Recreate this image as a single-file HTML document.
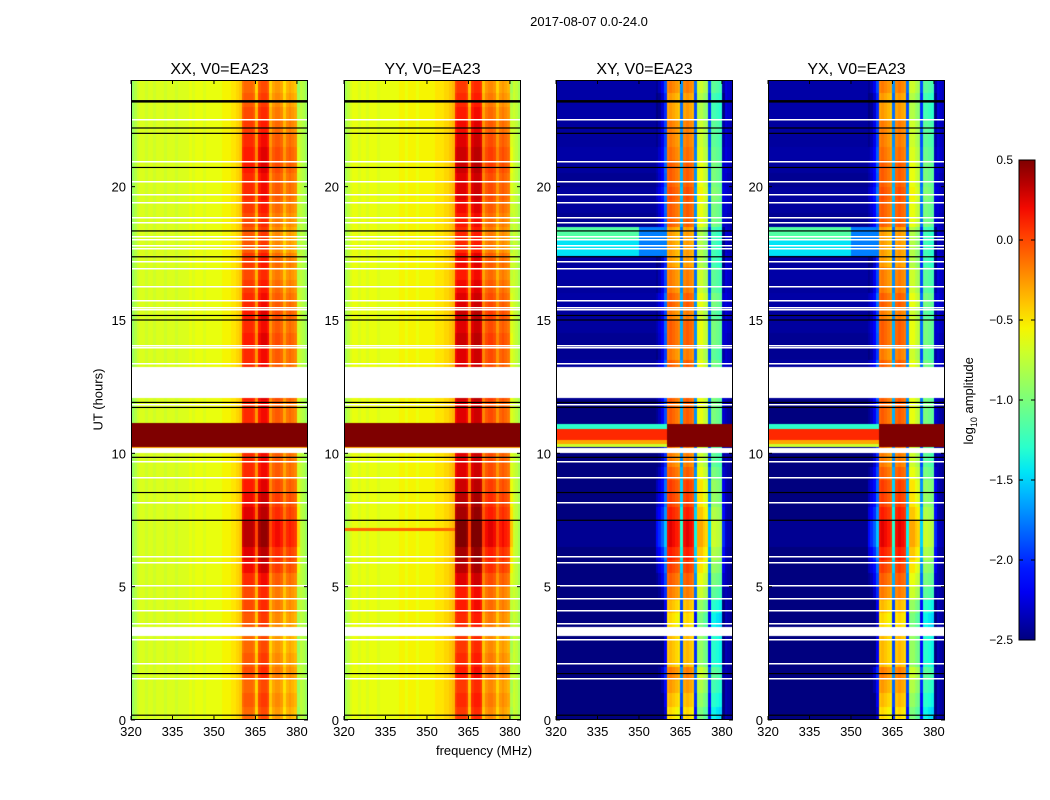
<!DOCTYPE html>
<html><head><meta charset="utf-8">
<style>
body{margin:0;background:#fff;font-family:"Liberation Sans","DejaVu Sans",sans-serif;}
#root{position:relative;width:1050px;height:800px;overflow:hidden;background:#fff;}
.t{position:absolute;color:#000;white-space:nowrap;}
canvas{position:absolute;}
</style></head>
<body>
<div id="root">
<div class="t" style="left:489px;top:14px;width:200px;text-align:center;font-size:13px;">2017-08-07 0.0-24.0</div>
<div class="t" style="left:48px;top:392px;width:100px;text-align:center;font-size:13px;transform:rotate(-90deg);">UT (hours)</div>
<div class="t" style="left:384px;top:743px;width:200px;text-align:center;font-size:13px;">frequency (MHz)</div>
<div class="t" style="left:910px;top:392px;width:120px;text-align:center;font-size:13px;transform:rotate(-90deg);">log<sub style="font-size:9px">10</sub> amplitude</div>
<svg id="ov" width="1050" height="800" style="position:absolute;left:0;top:0;pointer-events:none"></svg>
</div>
<script>
// ---- data ----
const panelTitles = ["XX, V0=EA23","YY, V0=EA23","XY, V0=EA23","YX, V0=EA23"];
const panelKinds = ["P","Y","X","X"];
const freqTicks = [320,335,350,365,380];
const hourTicks = [0,5,10,15,20];
const cbarTicks = [0.5,0.0,-0.5,-1.0,-1.5,-2.0,-2.5];
const cbarLabels = ["0.5","0.0","\u22120.5","\u22121.0","\u22121.5","\u22122.0","\u22122.5"];
// column profiles, 1 MHz channels from 320..383
const colParallel = [-0.9,-0.8,-0.7,-0.65,-0.65,-0.7,-0.65,-0.65,-0.7,-0.65,
 -0.65,-0.65,-0.7,-0.65,-0.65,-0.65,-0.7,-0.65,-0.65,-0.65,
 -0.65,-0.6,-0.65,-0.6,-0.6,-0.6,-0.65,-0.6,-0.6,-0.6,
 -0.6,-0.6,-0.6,-0.55,-0.55,-0.55,-0.5,-0.5,-0.45,-0.4,
 0.05,0.1,0.1,0.1,0.05,-0.25,0.15,0.2,0.2,0.15,
 -0.25,-0.1,-0.05,-0.05,-0.1,-0.3,-0.15,-0.1,-0.15,-0.2,
 -0.7,-0.75,-0.8,-0.9];
const colParallelY = [-0.85,-0.75,-0.65,-0.6,-0.6,-0.65,-0.6,-0.6,-0.65,-0.6,
 -0.6,-0.6,-0.65,-0.6,-0.6,-0.6,-0.6,-0.6,-0.6,-0.6,
 -0.55,-0.55,-0.6,-0.55,-0.55,-0.55,-0.6,-0.55,-0.55,-0.55,
 -0.55,-0.55,-0.55,-0.5,-0.5,-0.5,-0.45,-0.45,-0.4,-0.35,
 0.2,0.25,0.25,0.25,0.2,-0.2,0.25,0.3,0.3,0.25,
 -0.2,-0.05,0.0,0.0,-0.05,-0.25,-0.1,-0.05,-0.1,-0.15,
 -0.65,-0.7,-0.75,-0.85];
const colCross = [-2.5,-2.5,-2.5,-2.5,-2.5,-2.5,-2.5,-2.5,-2.5,-2.5,
 -2.5,-2.5,-2.5,-2.5,-2.5,-2.5,-2.5,-2.5,-2.5,-2.5,
 -2.5,-2.5,-2.5,-2.5,-2.5,-2.5,-2.5,-2.5,-2.5,-2.5,
 -2.5,-2.5,-2.5,-2.5,-2.5,-2.5,-2.45,-2.35,-2.2,-1.9,
 -0.1,-0.05,-0.1,-0.15,-0.2,-1.6,-0.1,-0.05,-0.1,-0.15,
 -1.7,-0.6,-0.6,-0.7,-0.75,-1.8,-1.0,-1.0,-1.05,-1.1,
 -2.3,-2.35,-2.4,-2.45];
// row modulation, half-hour bins 0..24 h
const rowBandP = [-0.2,-0.15,-0.2,-0.1,-0.15,-0.2,-0.2,-0.15,-0.1,-0.1,
 0,0.1,0.15,0.25,0.25,0.15,0.1,0.05,0,0,
 0,0,0,0,0.05,0,0,0,0.05,0,
 0.05,0,-0.05,-0.1,-0.05,-0.15,-0.15,-0.1,-0.05,0,
 0,0.05,0.05,0,-0.05,-0.1,-0.15,-0.2];
const rowBandX = [-0.4,-0.3,-0.2,-0.1,-0.3,-0.3,-0.3,-0.4,-0.3,-0.1,
 0,0.1,0.2,0.3,0.3,0.2,0.1,0.1,0,-0.1,
 -0.1,-0.1,0,0,0,0,0,-0.1,0,0,
 -0.1,0,-0.1,-0.1,-0.2,-0.2,-0.2,0,0,0.05,
 0,0,-0.05,-0.1,-0.1,-0.2,-0.2,-0.1];
const rowBgX = [0,0,0,0,0,0,0,0,0,0,
 0,0,0,0.05,0.05,0,0,0,0,0,
 0,0,0,0,0.05,0.05,0.08,0.05,0.05,0.08,
 0.08,0.1,0.08,0.1,0.08,0.05,0.08,0.05,0.08,0.08,
 0.05,0.08,0.1,0.08,0.08,0.1,0.1,0.1];
// overrides: [hourStart, hourEnd, kinds, freqStart, freqEnd, value]
const overrides = [
 [10.24,11.14,"PY",320,384,0.6],
 [10.19,10.24,"PY",320,384,-0.3],
 [7.1,7.2,"Y",320,360,-0.1],
 [10.24,11.1,"X",360,384,0.5],
 [10.24,10.35,"X",320,360,-0.7],
 [10.35,10.5,"X",320,360,-0.3],
 [10.5,10.9,"X",320,360,0.1],
 [10.9,11.1,"X",320,360,-1.3],
 [18.0,18.5,"X",320,350,-1.15],
 [17.4,18.0,"X",320,350,-1.45],
 [17.4,18.5,"X",350,360,-1.75]
];
// horizontal flag lines (hours) and blank blocks
const whiteLines = [22.49,20.91,20.16,19.69,19.37,18.81,18.65,18.12,18.0,17.78,17.66,17.19,16.9,16.25,15.71,15.46,15.37,14.04,13.96,13.34,11.81,9.67,9.06,8.13,6.1,5.89,5.04,4.53,4.09,3.59,3.0,2.09,1.53];
const blackLines = [23.2,22.2,22.0,20.72,18.34,17.37,15.17,15.0,11.91,11.72,9.85,8.53,7.49,1.74,0.18];
const blankBlocks = [[12.07,13.22],[10.0,10.19],[3.16,3.5]];

// ---- geometry ----
const panelX = [131,344,556,768], PW=177, PT=80, PH=640;
const F0=320,F1=384,H0=0,H1=24;
const xs = (f,i)=>panelX[i]+(f-F0)/(F1-F0)*PW;
const ys = h=>PT+PH-(h-H0)/(H1-H0)*PH;
const VMIN=-2.5,VMAX=0.5;
function interp(pts,t){for(let i=1;i<pts.length;i++){if(t<=pts[i][0]){const a=pts[i-1],b=pts[i];return a[1]+(b[1]-a[1])*(t-a[0])/(b[0]-a[0]);}}return pts[pts.length-1][1];}
function jet(v){let t=(v-VMIN)/(VMAX-VMIN);t=Math.max(0,Math.min(1,t));
 const r=interp([[0,0],[0.35,0],[0.66,1],[0.89,1],[1,0.5]],t);
 const g=interp([[0,0],[0.125,0],[0.375,1],[0.64,1],[0.91,0],[1,0]],t);
 const b=interp([[0,0.5],[0.11,1],[0.34,1],[0.65,0],[1,0]],t);
 return [r*255|0,g*255|0,b*255|0];}
function value(kind,f,h){
 const c=Math.min(63,Math.max(0,Math.floor(f-F0)));
 const r=Math.min(47,Math.max(0,Math.floor(h*2)));
 for(const o of overrides){if(o[2].includes(kind)&&h>=o[0]&&h<o[1]&&f>=o[3]&&f<o[4])return o[5];}
 if(kind==="X"){const base=colCross[c];
   if(f>=360&&f<381)return base+rowBandX[r];
   return base+rowBgX[r]+(f>=356&&f<360?rowBandX[r]:0);}
 const base=kind==="Y"?colParallelY[c]:colParallel[c];
 if(f>=360&&f<381)return base+rowBandP[r];
 return base;
}
const root=document.getElementById('root');
const ov=document.getElementById('ov');
const NS="http://www.w3.org/2000/svg";
function sv(tag,attrs,parent){const e=document.createElementNS(NS,tag);for(const k in attrs)e.setAttribute(k,attrs[k]);(parent||ov).appendChild(e);return e;}

for(let i=0;i<4;i++){
 const cv=document.createElement('canvas');
 
 
 cv.width=PW;cv.height=PH;cv.style.left=panelX[i]+'px';cv.style.top=PT+'px';
 root.insertBefore(cv,ov);
 const ctx=cv.getContext('2d');const img=ctx.createImageData(PW,PH);
 for(let y=0;y<PH;y++){const h=H1-(y+0.5)/PH*(H1-H0);
  let blank=false;for(const b of blankBlocks)if(h>=b[0]&&h<b[1])blank=true;
  for(let x=0;x<PW;x++){const f=F0+(x+0.5)/PW*(F1-F0);const k=(y*PW+x)*4;
   let col=blank?[255,255,255]:jet(value(panelKinds[i],f,h));
   img.data[k]=col[0];img.data[k+1]=col[1];img.data[k+2]=col[2];img.data[k+3]=255;}}
 ctx.putImageData(img,0,0);
 const g=sv('g',{});
 
 
 for(const h of whiteLines){const l=sv('rect',{x:panelX[i],y:Math.round(ys(h))-1,width:PW,height:1.5,fill:'#fff'},g);
  }
 for(const h of blackLines){const th=(h===23.2)?2.5:1.2;const l=sv('rect',{x:panelX[i],y:ys(h)-th/2,width:PW,height:th,fill:'#000'},g);
  }
 const fr=sv('rect',{x:panelX[i]+0.5,y:PT+0.5,width:PW-1,height:PH-1,fill:'none',stroke:'#000','stroke-width':1},g);
 
 for(const f of freqTicks){const x=xs(f,i);
  sv('line',{x1:x,x2:x,y1:PT+PH,y2:PT+PH-4,stroke:'#000'},g);
  sv('line',{x1:x,x2:x,y1:PT,y2:PT+4,stroke:'#000'},g);
  const t=sv('text',{x:x,y:PT+PH+16,'text-anchor':'middle','font-size':13,'font-family':'Liberation Sans, sans-serif'},g);
  t.textContent=f;}
 for(const h of hourTicks){const y=ys(h);
  sv('line',{x1:panelX[i],x2:panelX[i]+4,y1:y,y2:y,stroke:'#000'},g);
  sv('line',{x1:panelX[i]+PW,x2:panelX[i]+PW-4,y1:y,y2:y,stroke:'#000'},g);
  const t=sv('text',{x:panelX[i]-5,y:y+5,'text-anchor':'end','font-size':13,'font-family':'Liberation Sans, sans-serif'},g);
  t.textContent=h;}
 const tt=sv('text',{x:panelX[i]+PW/2,y:74,'text-anchor':'middle','font-size':16,'font-family':'Liberation Sans, sans-serif'},g);
 tt.textContent=panelTitles[i];
}
// colorbar
const CBX=1019,CBY=160,CBW=16,CBH=480;
const defs=sv('defs',{});const lg=sv('linearGradient',{id:'cbg',x1:0,y1:1,x2:0,y2:0},defs);
for(let s=0;s<=20;s++){const c=jet(VMIN+(VMAX-VMIN)*s/20);sv('stop',{offset:s/20,'stop-color':`rgb(${c[0]},${c[1]},${c[2]})`},lg);}
const cb=sv('rect',{x:CBX,y:CBY,width:CBW,height:CBH,fill:'url(#cbg)',stroke:'#000','stroke-width':1});

cbarTicks.forEach((v,k)=>{const y=CBY+CBH-(v-VMIN)/(VMAX-VMIN)*CBH;
 sv('line',{x1:CBX,x2:CBX+4,y1:y,y2:y,stroke:'#000'});sv('line',{x1:CBX+CBW,x2:CBX+CBW-4,y1:y,y2:y,stroke:'#000'});
 const t=sv('text',{x:1013,y:y+4,'text-anchor':'end','font-size':12,'font-family':'Liberation Sans, DejaVu Sans, sans-serif'});
 t.textContent=cbarLabels[k];});
</script>
</body></html>
